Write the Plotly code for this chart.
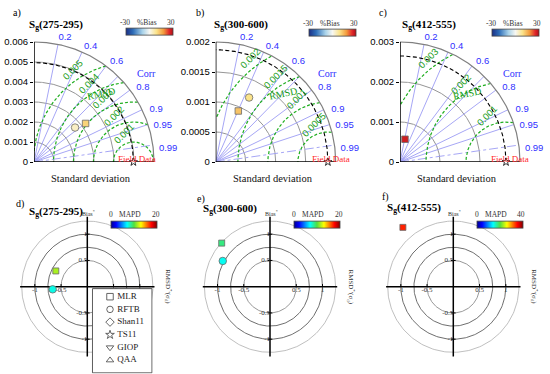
import numpy as np
import plotly.graph_objects as go

W, H = 550, 374
SERIF = "Liberation Serif"
SANS = "Liberation Sans"

# ---------------- DATA ----------------
panel_letters_top = ["a)", "b)", "c)"]
panel_letters_bot = ["d)", "e)", "f)"]
band_labels = ["(275-295)", "(300-600)", "(412-555)"]

# Taylor diagrams
ref_std = [0.00497, 0.00187, 0.00265]          # Field Data std
std_max = [0.006, 0.002, 0.003]
std_ticks = [[0, 0.001, 0.002, 0.003, 0.004, 0.005, 0.006],
             [0, 0.0005, 0.001, 0.0015, 0.002],
             [0, 0.001, 0.002, 0.003]]
std_tick_text = [["0", "0.001", "0.002", "0.003", "0.004", "0.005", "0.006"],
                 ["0", "0.0005", "0.001", "0.0015", "0.002"],
                 ["0", "0.001", "0.002", "0.003"]]
std_grid = [[0.001, 0.002, 0.003, 0.004, 0.005],
            [0.0005, 0.001, 0.0015],
            [0.001, 0.002]]
rmsd_levels = [[0.001, 0.002, 0.003, 0.004, 0.005],
               [0.0005, 0.001, 0.0015, 0.002],
               [0.001, 0.002, 0.003]]
rmsd_text = [["0.001", "0.002", "0.003", "0.004", "0.005"],
             ["0.0005", "0.001", "0.0015", "0.002"],
             ["0.001", "0.002", "0.003"]]
corr_lines = [0.2, 0.4, 0.6, 0.7, 0.8, 0.9, 0.95]
corr_dashdot = [0.99]
corr_labels = [0.2, 0.4, 0.6, 0.8, 0.9, 0.95, 0.99]

taylor_models = [["MLR", "RFTB"], ["MLR", "RFTB"], ["MLR"]]
taylor_std = [[0.00322, 0.00268], [0.00093, 0.00121], [0.000583]]
taylor_corr = [[0.801, 0.766], [0.405, 0.46], [0.214]]
taylor_bias = [[11, 4], [13, 9], [27]]          # %Bias
bias_lim = 30

# Target diagrams
target_models = [["MLR", "RFTB"], ["MLR", "RFTB"], ["MLR"]]
target_rmsd = [[-0.60, -0.66], [-0.92, -0.90], [-0.96]]   # RMSD*'(sigma_d)
target_bias = [[0.30, -0.05], [0.83, 0.49], [1.13]]        # Bias*
target_mapd = [[11.5, 7.4], [9.0, 7.2], [34]]
mapd_max = [20, 20, 40]
target_circles = [0.5, 0.75, 1.0, 1.25]
target_ticks = [-1, -0.5, 0.5, 1]
target_tick_text = ["-1", "-0.5", "0.5", "1"]

legend_models = ["MLR", "RFTB", "Shan11", "TS11", "GIOP", "QAA"]
legend_symbols = ["square-open", "circle-open", "diamond-open", "star-open",
                  "triangle-down-open", "triangle-up-open"]
model_symbol = {"MLR": "square", "RFTB": "circle", "Shan11": "diamond",
                "TS11": "star", "GIOP": "triangle-down", "QAA": "triangle-up"}

bias_scale = [[0, "#1b2f86"], [0.15, "#2d6db8"], [0.35, "#a9d3ea"], [0.5, "#f7f7f2"],
              [0.65, "#fbe38a"], [0.8, "#f39a3c"], [0.92, "#e0262a"], [1, "#b01018"]]
jet_scale = [[0, "#00008f"], [0.11, "#0000ff"], [0.35, "#00ffff"], [0.5, "#50e040"],
             [0.65, "#ffff00"], [0.88, "#ff0000"], [1, "#800000"]]

# ---------------- LAYOUT HELPERS ----------------
def fx(p):
    return p / W

def fy(p):
    return 1 - p / H

def names(n):
    s = "" if n == 1 else str(n)
    return "x" + s, "y" + s, "xaxis" + s, "yaxis" + s

def nanlist(a):
    return [None if (v is None or (isinstance(v, float) and np.isnan(v))) else float(v) for v in a]

fig = go.Figure()
layout = dict(width=W, height=H, margin=dict(l=0, r=0, t=0, b=0, autoexpand=False),
              paper_bgcolor="white", plot_bgcolor="rgba(0,0,0,0)", showlegend=False,
              hovermode=False)
annotations = []

def ann(text, px, py, size, family=SERIF, color="black", xanchor="center",
        yanchor="middle", textangle=0):
    annotations.append(dict(text=text, x=fx(px), y=fy(py), xref="paper", yref="paper",
                            showarrow=False, xanchor=xanchor, yanchor=yanchor,
                            font=dict(family=family, size=size, color=color),
                            textangle=textangle))

def cbar(cx, cy, ln):
    return dict(orientation="h", x=fx(cx), xanchor="center", y=fy(cy), yanchor="middle",
                len=ln, lenmode="pixels", thickness=6.5, thicknessmode="pixels",
                outlinewidth=0.8, outlinecolor="#444", showticklabels=False, ticks="",
                xpad=0, ypad=0)

# ---------------- TAYLOR DIAGRAMS ----------------
taylor_origin = [(34.0, 162.0), (215.7, 162.0), (400.0, 162.0)]
bias_cbar_center = [(149.7, 31.7), (332.3, 32.5), (515.3, 32.5)]
SPAN = 120.0      # pixels for std_max
EXT = 1.25        # axis range extends beyond std_max for labels
th = np.linspace(0, np.pi / 2, 150)
ph = np.linspace(0, np.pi, 400)

for i in range(3):
    n = i + 1
    xn, yn, xk, yk = names(n)
    R = std_max[i]
    ref = ref_std[i]
    ox, oy = taylor_origin[i]
    layout[xk] = dict(domain=[fx(ox), fx(ox + EXT * SPAN)], range=[0, EXT * R],
                      visible=False, anchor=yn, fixedrange=True, automargin=False)
    layout[yk] = dict(domain=[fy(oy), fy(oy - EXT * SPAN)], range=[0, EXT * R], anchor=xn,
                      showline=False, ticks="outside",
                      ticklen=3, tickwidth=1, tickcolor="black",
                      tickvals=std_ticks[i], ticktext=std_tick_text[i],
                      tickfont=dict(family=SANS, size=9.5, color="black"),
                      showgrid=False, zeroline=False, fixedrange=True, automargin=False)
    common = dict(xaxis=xn, yaxis=yn, hoverinfo="skip", cliponaxis=False)

    # std arcs
    xs, ys = [], []
    for r in std_grid[i]:
        xs += list(r * np.cos(th)) + [None]
        ys += list(r * np.sin(th)) + [None]
    fig.add_trace(go.Scatter(x=xs, y=ys, mode="lines",
                             line=dict(color="#969696", width=1), **common))
    # correlation lines
    xs, ys = [], []
    for c in corr_lines:
        a = np.arccos(c)
        xs += [0, R * np.cos(a), None]
        ys += [0, R * np.sin(a), None]
    fig.add_trace(go.Scatter(x=xs, y=ys, mode="lines",
                             line=dict(color="#9c9cf4", width=0.9), **common))
    xs, ys = [], []
    for c in corr_dashdot:
        a = np.arccos(c)
        xs += [0, R * np.cos(a), None]
        ys += [0, R * np.sin(a), None]
    fig.add_trace(go.Scatter(x=xs, y=ys, mode="lines",
                             line=dict(color="#9c9cf4", width=0.9, dash="dashdot"), **common))
    # RMSD arcs
    xs, ys = [], []
    for rr in rmsd_levels[i]:
        x = ref + rr * np.cos(ph)
        y = rr * np.sin(ph)
        ok = (x >= 0) & (x ** 2 + y ** 2 <= R ** 2 * 1.0001)
        xs += nanlist(np.where(ok, x, np.nan)) + [None]
        ys += nanlist(np.where(ok, y, np.nan)) + [None]
    fig.add_trace(go.Scatter(x=xs, y=ys, mode="lines", connectgaps=False,
                             line=dict(color="#1fae1f", width=1.2, dash="3px,2px"), **common))
    # reference std arc
    fig.add_trace(go.Scatter(x=list(ref * np.cos(th)), y=list(ref * np.sin(th)), mode="lines",
                             line=dict(color="black", width=1.1, dash="4px,2.5px"), **common))
    # outer arc, baseline and y axis line
    fig.add_trace(go.Scatter(x=list(R * np.cos(th)), y=list(R * np.sin(th)), mode="lines",
                             line=dict(color="#808080", width=1.2), **common))
    fig.add_trace(go.Scatter(x=[R, 0, 0], y=[0, 0, R], mode="lines",
                             line=dict(color="black", width=1.5), **common))
    # correlation labels
    ang = np.arccos(np.array(corr_labels))
    rad = R * (1.13 - 0.075 * np.degrees(ang) / 90)
    ang_l = ang - np.radians(2.5)
    fig.add_trace(go.Scatter(x=list(rad * np.cos(ang_l)), y=list(rad * np.sin(ang_l)),
                             mode="text", text=[f"{c:g}" for c in corr_labels],
                             textposition="middle center",
                             textfont=dict(family=SANS, size=9.5, color="#2f2fff"), **common))
    # RMSD labels
    for rr, tt in zip(rmsd_levels[i], rmsd_text[i]):
        frac = rr / R
        a2 = np.radians(105 + 22 * frac)
        rl = rr + 0.085 * R
        annotations.append(dict(text=tt, x=ref + rl * np.cos(a2), y=rl * np.sin(a2),
                                xref=xn, yref=yn, showarrow=False, textangle=-45,
                                font=dict(family=SANS, size=9.5, color="#1a9e1a")))
    annotations.append(dict(text="RMSD", x=0.56 * R, y=0.57 * R, xref=xn, yref=yn,
                            showarrow=False, textangle=-12,
                            font=dict(family=SERIF, size=10, color="#1a9e1a")))
    annotations.append(dict(text="Corr", x=0.935 * R, y=0.74 * R, xref=xn, yref=yn,
                            showarrow=False,
                            font=dict(family=SERIF, size=10, color="#2f2fff")))
    # reference point
    fig.add_trace(go.Scatter(x=[ref], y=[0], mode="markers",
                             marker=dict(symbol="star", size=6, color="white",
                                         line=dict(color="black", width=0.8)), **common))
    annotations.append(dict(text="Field Data", x=ref, y=0, xref=xn, yref=yn,
                            showarrow=False, xshift=3.5, yshift=3,
                            font=dict(family=SERIF, size=9, color="#ff2a2a")))
    # model points
    ca = np.arccos(np.array(taylor_corr[i]))
    sd = np.array(taylor_std[i])
    for k, m in enumerate(taylor_models[i]):
        sym = model_symbol[m]
        fig.add_trace(go.Scatter(
            x=[sd[k] * np.cos(ca[k])], y=[sd[k] * np.sin(ca[k])], mode="markers",
            marker=dict(symbol=sym, size=7.5 if sym == "circle" else 6.5,
                        color=[taylor_bias[i][k]], coloraxis=f"coloraxis{n if n > 1 else ''}",
                        line=dict(color="#6a6a6a", width=0.8)), **common))
    cak = "coloraxis" + ("" if n == 1 else str(n))
    ccx, ccy = bias_cbar_center[i]
    layout[cak] = dict(cmin=-bias_lim, cmax=bias_lim, colorscale=bias_scale,
                       colorbar=cbar(ccx, ccy, 47))
    ann(f"-{bias_lim}", ccx - 24.5, ccy - 9, 7.5, color="#333")
    ann("%Bias", ccx - 2.5, ccy - 9, 7.5, color="#333")
    ann(f"{bias_lim}", ccx + 21.5, ccy - 9, 7.5, color="#333")
    # titles
    ann("Standard deviation", ox + 57, 178, 10.5, color="#111")
    ann(f"<b>S<sub>g</sub>{band_labels[i]}</b>", [27.3, 211.7, 400][i], 25, 11, xanchor="left")
    ann(panel_letters_top[i], [16.7, 200, 383.3][i], 13, 10)

# ---------------- TARGET DIAGRAMS ----------------
target_center = [(87.3, 286.7), (270.0, 286.7), (453.3, 286.7)]
mapd_cbar_center = [(133.8, 225), (317.0, 225), (499.7, 225)]
K = 52.5
L = 1.4
XL, YL = 1.28, 1.33
tt = np.linspace(0, 2 * np.pi, 240)
circle_colors = ["#8c8c8c", "#5e5e5e", "#5e5e5e", "#b8b8b8"]

for i in range(3):
    n = i + 4
    xn, yn, xk, yk = names(n)
    cx, cy = target_center[i]
    layout[xk] = dict(domain=[fx(cx - L * K), fx(cx + L * K)], range=[-L, L],
                      visible=False, anchor=yn, fixedrange=True, automargin=False)
    layout[yk] = dict(domain=[fy(cy + L * K), fy(cy - L * K)], range=[-L, L],
                      visible=False, anchor=xn, fixedrange=True, automargin=False)
    common = dict(xaxis=xn, yaxis=yn, hoverinfo="skip", cliponaxis=False)
    for r, col in zip(target_circles, circle_colors):
        fig.add_trace(go.Scatter(x=list(r * np.cos(tt)), y=list(r * np.sin(tt)), mode="lines",
                                 line=dict(color=col, width=0.9), **common))
    # axes
    fig.add_trace(go.Scatter(x=[-XL, XL, None, 0, 0], y=[0, 0, None, -YL, YL], mode="lines",
                             line=dict(color="black", width=1.5), **common))
    xs, ys = [], []
    for v in target_ticks:
        xs += [v, v, None, -0.045, 0.045, None]
        ys += [0, 0.05, None, v, v, None]
    fig.add_trace(go.Scatter(x=xs, y=ys, mode="lines",
                             line=dict(color="black", width=1), **common))
    fig.add_trace(go.Scatter(x=target_ticks, y=[0] * len(target_ticks), mode="text",
                             text=target_tick_text, textposition="bottom center",
                             textfont=dict(family=SERIF, size=7, color="#333"), **common))
    fig.add_trace(go.Scatter(x=[0] * len(target_ticks), y=target_ticks, mode="text",
                             text=target_tick_text, textposition="middle left",
                             textfont=dict(family=SERIF, size=7, color="#333"), **common))
    # model points
    for k, m in enumerate(target_models[i]):
        sym = model_symbol[m]
        fig.add_trace(go.Scatter(
            x=[target_rmsd[i][k]], y=[target_bias[i][k]], mode="markers",
            marker=dict(symbol=sym, size=7.5 if sym == "circle" else 6,
                        color=[target_mapd[i][k]], coloraxis=f"coloraxis{n}",
                        line=dict(color="#6a6a6a", width=0.8)), **common))
    ccx, ccy = mapd_cbar_center[i]
    layout[f"coloraxis{n}"] = dict(cmin=0, cmax=mapd_max[i], colorscale=jet_scale,
                                   colorbar=cbar(ccx, ccy, 46))
    ann("0", ccx - 22.8, ccy - 10.7, 7.5, color="#333")
    ann("MAPD", ccx - 3.8, ccy - 10.7, 7.5, color="#333")
    ann(f"{mapd_max[i]}", ccx + 21.7, ccy - 10.7, 7.5, color="#333")
    ann("Bias<sup>*</sup>", cx + 1, 213.3, 6, color="#333")
    annotations.append(dict(text="RMSD<sup>*</sup>'(σ<sub>d</sub>)", x=XL, y=0,
                            xref=xn, yref=yn, showarrow=False, xshift=14, textangle=90,
                            font=dict(family=SERIF, size=7, color="#333")))
    ann(f"<b>S<sub>g</sub>{band_labels[i]}</b>", [27.3, 200.7, 385][i],
        [211.5, 208.5, 208][i], 11, xanchor="left")
    ann(panel_letters_bot[i], [20, 200.7, 385][i], [204, 199, 196.7][i], 10)

# ---------------- LEGEND (panel d) ----------------
xn, yn, xk, yk = names(7)
top_row, row_h = 296.7, 12.7
box_top, box_bot = 288.0, 373.5
y_top = -(top_row - box_top) / row_h
y_bot = (box_bot - top_row) / row_h
layout[xk] = dict(domain=[fx(91.7), fx(152.7)], range=[0, 1], visible=False,
                  anchor=yn, fixedrange=True, automargin=False)
layout[yk] = dict(domain=[fy(box_bot), fy(box_top)], range=[y_bot, y_top], visible=False,
                  anchor=xn, fixedrange=True, automargin=False)
common = dict(xaxis=xn, yaxis=yn, hoverinfo="skip", cliponaxis=False)
e = 0.012
fig.add_trace(go.Scatter(x=[e, 1 - e, 1 - e, e, e],
                         y=[y_top + 0.05, y_top + 0.05, y_bot - 0.05, y_bot - 0.05, y_top + 0.05],
                         mode="lines", fill="toself", fillcolor="white",
                         line=dict(color="#555", width=1), **common))
rows = list(range(len(legend_models)))
fig.add_trace(go.Scatter(x=[0.3] * len(rows), y=rows, mode="markers",
                         marker=dict(symbol=legend_symbols, size=6.5, color="#555",
                                     line=dict(color="#555", width=0.9)), **common))
fig.add_trace(go.Scatter(x=[0.42] * len(rows), y=rows, mode="text", text=legend_models,
                         textposition="middle right",
                         textfont=dict(family=SERIF, size=9, color="#222"), **common))

layout["annotations"] = annotations
fig.update_layout(**layout)
fig.write_html("out.html", config={"displayModeBar": False, "staticPlot": True},
               post_script="document.body.style.margin='0';document.body.style.overflow='hidden';")
